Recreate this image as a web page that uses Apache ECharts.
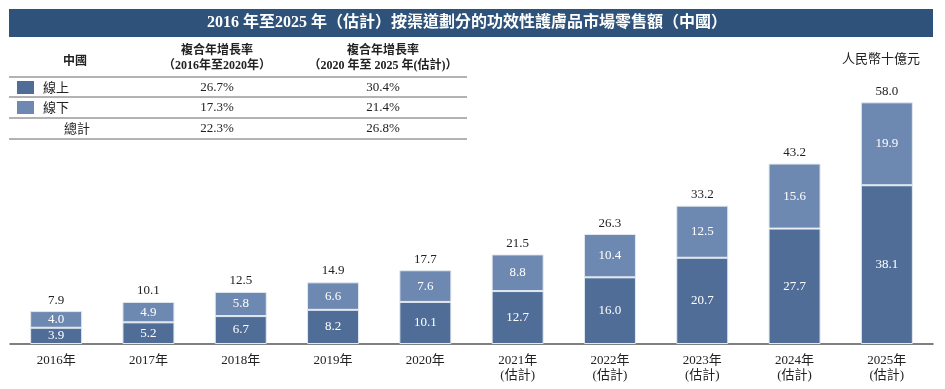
<!DOCTYPE html>
<html>
<head>
<meta charset="utf-8">
<script src="https://cdn.jsdelivr.net/npm/echarts@6/dist/echarts.min.js"></script>
<style>
html,body{margin:0;padding:0;background:#fff;}
#c{width:945px;height:389px;}
</style>
</head>
<body>
<div id="c"></div>
<script>
var categories = ['2016年','2017年','2018年','2019年','2020年','2021年\n(估計)','2022年\n(估計)','2023年\n(估計)','2024年\n(估計)','2025年\n(估計)'];
var online = [3.9, 5.2, 6.7, 8.2, 10.1, 12.7, 16.0, 20.7, 27.7, 38.1];
var offline = [4.0, 4.9, 5.8, 6.6, 7.6, 8.8, 10.4, 12.5, 15.6, 19.9];
var totals = [7.9, 10.1, 12.5, 14.9, 17.7, 21.5, 26.3, 33.2, 43.2, 58.0];
var titleText = '2016 年至2025 年（估計）按渠道劃分的功效性護膚品市場零售額（中國）';
var unitText = '人民幣十億元';
var tableHeader = ['中國', '複合年增長率\n（2016年至2020年）', '複合年增長率\n（2020 年至 2025 年(估計)）'];
var rowNames = ['線上', '線下', '總計'];
var cagr1 = ['26.7%', '17.3%', '22.3%'];
var cagr2 = ['30.4%', '21.4%', '26.8%'];

var DARK = '#506d98';
var LIGHT = '#6e89b1';
var FONT = '"Liberation Serif", "Noto Sans CJK TC", serif';

var chart = echarts.init(document.getElementById('c'), null, {renderer: 'canvas'});

var graphics = [];
// title bar
graphics.push({type: 'rect', shape: {x: 9, y: 9, width: 924, height: 28}, style: {fill: '#2e5279'}, z: 1});
graphics.push({type: 'text', x: 467, y: 23, style: {text: titleText, fill: '#fff', font: 'bold 16px ' + FONT, textAlign: 'center', textVerticalAlign: 'middle'}, z: 2});
// unit
graphics.push({type: 'text', x: 920, y: 60, style: {text: unitText, fill: '#222', font: '13px ' + FONT, textAlign: 'right', textVerticalAlign: 'middle'}});
// table header
graphics.push({type: 'text', x: 75, y: 62, style: {text: tableHeader[0], fill: '#222', font: 'bold 12px ' + FONT, textAlign: 'center', textVerticalAlign: 'middle'}});
graphics.push({type: 'text', x: 217, y: 58, style: {text: tableHeader[1], fill: '#222', font: 'bold 12px ' + FONT, textAlign: 'center', textVerticalAlign: 'middle', lineHeight: 15}});
graphics.push({type: 'text', x: 383, y: 58, style: {text: tableHeader[2], fill: '#222', font: 'bold 12px ' + FONT, textAlign: 'center', textVerticalAlign: 'middle', lineHeight: 15}});
// table lines
[77, 97, 118, 139].forEach(function (yy) {
  graphics.push({type: 'line', shape: {x1: 9, y1: yy, x2: 467, y2: yy}, style: {stroke: '#666', lineWidth: 1}});
});
var rowY = [88, 108, 129];
var swatch = [DARK, LIGHT, null];
for (var i = 0; i < rowNames.length; i++) {
  if (swatch[i]) {
    graphics.push({type: 'rect', shape: {x: 17, y: rowY[i] - 7, width: 17, height: 13}, style: {fill: swatch[i]}});
  }
  graphics.push({type: 'text', x: i < 2 ? 43 : 64, y: rowY[i] + 1, style: {text: rowNames[i], fill: '#222', font: '13px ' + FONT, textAlign: 'left', textVerticalAlign: 'middle'}});
  graphics.push({type: 'text', x: 217, y: rowY[i], style: {text: cagr1[i], fill: '#222', font: '13px ' + FONT, textAlign: 'center', textVerticalAlign: 'middle'}});
  graphics.push({type: 'text', x: 383, y: rowY[i], style: {text: cagr2[i], fill: '#222', font: '13px ' + FONT, textAlign: 'center', textVerticalAlign: 'middle'}});
}

var option = {
  animation: false,
  backgroundColor: '#fff',
  textStyle: {fontFamily: FONT},
  grid: {left: 10, right: 12, top: 94, bottom: 45, containLabel: false},
  xAxis: {
    type: 'category',
    data: categories,
    axisTick: {show: false},
    axisLine: {lineStyle: {color: '#555', width: 1.5}},
    axisLabel: {color: '#222', fontSize: 13, fontFamily: FONT, margin: 9, lineHeight: 15}
  },
  yAxis: {
    type: 'value', min: 0, max: 60,
    show: false,
    splitLine: {show: false}
  },
  series: [
    {
      name: '線上', type: 'bar', stack: 's', data: online, barWidth: 52,
      itemStyle: {color: DARK, borderColor: '#e3e8f0', borderWidth: 1},
      label: {show: true, position: 'inside', color: '#fff', fontSize: 13, fontFamily: FONT,
        formatter: function (p) { return p.value.toFixed(1); }}
    },
    {
      name: '線下', type: 'bar', stack: 's', data: offline, barWidth: 52,
      itemStyle: {color: LIGHT, borderColor: '#e3e8f0', borderWidth: 1},
      label: {show: true, position: 'inside', color: '#fff', fontSize: 13, fontFamily: FONT,
        formatter: function (p) { return p.value.toFixed(1); }}
    },
    {
      name: '總計', type: 'line', data: totals, symbol: 'circle', symbolSize: 1, showSymbol: true,
      itemStyle: {color: 'rgba(0,0,0,0)'},
      lineStyle: {opacity: 0}, silent: true,
      label: {show: true, position: 'top', distance: 4, color: '#222', fontSize: 13, fontFamily: FONT,
        formatter: function (p) { return p.value.toFixed(1); }}
    }
  ],
  graphic: graphics
};
chart.setOption(option);
</script>
</body>
</html>
